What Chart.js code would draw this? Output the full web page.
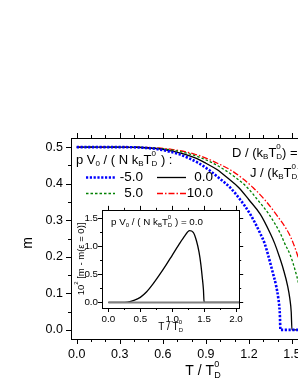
<!DOCTYPE html>
<html>
<head>
<meta charset="utf-8">
<script src="https://cdn.jsdelivr.net/npm/chart.js@4.4.1/dist/chart.umd.min.js"></script>
<style>
  html, body { margin: 0; padding: 0; background: #fff; overflow: hidden; width: 298px; height: 385px; }
  #main  { position: absolute; left: 0; top: 0; }
  #inset { position: absolute; left: 73px; top: 200px; }
</style>
</head>
<body>
<canvas id="main"></canvas>
<canvas id="inset"></canvas>
<script>
// ---- data ----
// legend values of p V0 / (N kB TD0)
const pressures = ['-5.0', '0.0', '5.0', '10.0'];

// m versus T / TD0, one pair of arrays per curve
const tBlue  = [0, 0.28, 0.43, 0.57, 0.71, 0.78, 0.85, 0.92, 0.99, 1.07, 1.14, 1.21, 1.28, 1.31, 1.335, 1.36, 1.39, 1.405, 1.415, 1.42, 2.1];
const mBlue  = [0.5, 0.5, 0.499, 0.494, 0.481, 0.47, 0.456, 0.438, 0.416, 0.389, 0.356, 0.316, 0.263, 0.236, 0.203, 0.166, 0.12, 0.086, 0.048, 0, 0];
const tBlack = [0, 0.3, 0.45, 0.6, 0.75, 0.83, 0.9, 0.98, 1.05, 1.13, 1.2, 1.28, 1.35, 1.38, 1.41, 1.44, 1.47, 1.485, 1.495, 1.5, 2.1];
const mBlack = [0.5, 0.5, 0.499, 0.494, 0.481, 0.47, 0.456, 0.438, 0.416, 0.389, 0.356, 0.316, 0.263, 0.236, 0.203, 0.166, 0.12, 0.086, 0.048, 0, 0];
const tGreen = [0, 0.32, 0.47, 0.63, 0.79, 0.87, 0.95, 1.03, 1.11, 1.19, 1.26, 1.34, 1.42, 1.45, 1.49, 1.52, 1.55, 1.565, 1.575, 1.58, 2.1];
const mGreen = [0.5, 0.5, 0.499, 0.494, 0.481, 0.47, 0.456, 0.438, 0.416, 0.389, 0.356, 0.316, 0.263, 0.236, 0.203, 0.166, 0.12, 0.086, 0.048, 0, 0];
const tRed   = [0, 0.33, 0.49, 0.66, 0.82, 0.9, 0.98, 1.07, 1.15, 1.23, 1.31, 1.39, 1.48, 1.51, 1.54, 1.57, 1.61, 1.625, 1.635, 1.64, 2.1];
const mRed   = [0.5, 0.5, 0.499, 0.494, 0.481, 0.47, 0.456, 0.438, 0.416, 0.389, 0.356, 0.316, 0.263, 0.236, 0.203, 0.166, 0.12, 0.086, 0.048, 0, 0];

// inset: 10^2 [m - m(eps = 0)] for p V0 / (N kB TD0) = 0.0
const insetT = [0, 0.2, 0.3, 0.4, 0.5, 0.6, 0.7, 0.8, 0.9, 1.0, 1.1, 1.2, 1.27, 1.33, 1.38, 1.42, 1.45, 1.47, 1.49, 1.5, 2.05];
const insetD = [0, 0, 0.006, 0.035, 0.09, 0.19, 0.33, 0.49, 0.66, 0.84, 1.02, 1.19, 1.28, 1.25, 1.1, 0.9, 0.67, 0.46, 0.22, 0, 0];
const baseT  = [0, 2.05];
const baseD  = [0, 0];

// tick labels
const mainXTicks  = [0, 0.3, 0.6, 0.9, 1.2, 1.5, 1.8];
const mainYTicks  = [0, 0.1, 0.2, 0.3, 0.4, 0.5];
const insetXTicks = [0, 0.5, 1.0, 1.5, 2.0];
const insetYTicks = [0, 0.5, 1.0, 1.5];

// ---- helpers ----
const FONT = '"Liberation Sans", Arial, sans-serif';
const pts = (xs, ys) => xs.map((x, i) => ({ x: x, y: ys[i] }));

// text with sub/superscripts: parts like {t:'T'}, {sub:'D', sup:'0'}
function rich(ctx, parts, x, y, size, align) {
  const small = Math.round(size * 0.62);
  const widthOf = p => {
    if (p.t !== undefined) { ctx.font = size + 'px ' + FONT; return ctx.measureText(p.t).width; }
    ctx.font = small + 'px ' + FONT;
    return Math.max(p.sub ? ctx.measureText(p.sub).width : 0, p.sup ? ctx.measureText(p.sup).width : 0);
  };
  const total = parts.reduce((s, p) => s + widthOf(p), 0);
  let cx = align === 'center' ? x - total / 2 : align === 'right' ? x - total : x;
  ctx.textBaseline = 'middle';
  ctx.textAlign = 'left';
  ctx.fillStyle = '#000';
  parts.forEach(p => {
    const w = widthOf(p);
    if (p.t !== undefined) {
      ctx.font = size + 'px ' + FONT;
      ctx.fillText(p.t, cx, y);
    } else {
      ctx.font = small + 'px ' + FONT;
      if (p.sub) ctx.fillText(p.sub, cx, y + size * 0.32);
      if (p.sup) ctx.fillText(p.sup, cx, y - size * 0.45);
    }
    cx += w;
  });
}

// white box, frame and outward tick marks drawn from the chart scales
const frame = {
  id: 'frame',
  beforeDatasetsDraw(chart) {
    const a = chart.chartArea, ctx = chart.ctx;
    ctx.save();
    ctx.fillStyle = '#fff';
    ctx.fillRect(a.left, a.top, a.right - a.left, a.bottom - a.top);
    ctx.restore();
  },
  afterDatasetsDraw(chart, args, o) {
    const { ctx, chartArea: a, scales: { x, y } } = chart;
    const r = v => Math.round(v) + 0.5;
    ctx.save();
    ctx.strokeStyle = '#000';
    ctx.lineWidth = 1;
    ctx.beginPath();
    const xt = (v, len) => {
      if (v < x.min || v > x.max) return;
      const px = r(x.getPixelForValue(v));
      ctx.moveTo(px, a.bottom); ctx.lineTo(px, a.bottom + len);
      ctx.moveTo(px, a.top);    ctx.lineTo(px, a.top - len);
    };
    const yt = (v, len) => {
      if (v < y.min || v > y.max) return;
      const py = r(y.getPixelForValue(v));
      ctx.moveTo(a.left, py);  ctx.lineTo(a.left - len, py);
      ctx.moveTo(a.right, py); ctx.lineTo(a.right + len, py);
    };
    for (let v = o.xStart; v <= x.max + 1e-9; v += o.xMinor) xt(+v.toFixed(4), o.minorLen);
    for (let v = o.yStart; v <= y.max + 1e-9; v += o.yMinor) yt(+v.toFixed(4), o.minorLen);
    o.xMajor.forEach(v => xt(v, o.majorLen));
    o.yMajor.forEach(v => yt(v, o.majorLen));
    ctx.stroke();
    ctx.strokeRect(r(a.left), r(a.top), Math.round(a.right - a.left), Math.round(a.bottom - a.top));
    ctx.restore();
  }
};

// ---- main chart ----
const mainCanvas = document.getElementById('main');
mainCanvas.width = 420;
mainCanvas.height = 385;

const styles = [
  { color: '#0000ff', dash: [2.2, 1.6], width: 2.6 },
  { color: '#000000', dash: [],         width: 1.3 },
  { color: '#008000', dash: [2.5, 2],   width: 1.3 },
  { color: '#ff0000', dash: [6, 2, 1.5, 2], width: 1.3 }
];
const series = [pts(tBlue, mBlue), pts(tBlack, mBlack), pts(tGreen, mGreen), pts(tRed, mRed)];

const mainNotes = {
  id: 'mainNotes',
  afterDraw(chart) {
    const ctx = chart.ctx;
    ctx.save();
    // axis titles
    ctx.translate(28, 243);
    ctx.rotate(-Math.PI / 2);
    rich(ctx, [{ t: 'm' }], 0, 0, 14, 'center');
    ctx.setTransform(1, 0, 0, 1, 0, 0);
    rich(ctx, [{ t: 'T / T' }, { sub: 'D', sup: '0' }], 203, 371, 14, 'center');

    // legend
    rich(ctx, [{ t: 'p V' }, { sub: '0' }, { t: ' / ( N k' }, { sub: 'B' }, { t: 'T' }, { sub: 'D', sup: '0' }, { t: ' ) :' }], 76, 160, 13, 'left');
    const rows = [[0, 86, 177, 143], [1, 157, 177, 213], [2, 86, 193, 143], [3, 157, 193, 213]];
    rows.forEach(([i, x0, yy, xr]) => {
      const ds = chart.data.datasets[i];
      ctx.beginPath();
      ctx.strokeStyle = ds.borderColor;
      ctx.lineWidth = ds.borderWidth;
      ctx.setLineDash(ds.borderDash);
      ctx.moveTo(x0, yy + 0.5);
      ctx.lineTo(x0 + 29, yy + 0.5);
      ctx.stroke();
      ctx.setLineDash([]);
      rich(ctx, [{ t: pressures[i] }], xr, yy, 13.5, 'right');
    });

    // parameter notes at the right
    rich(ctx, [{ t: 'D / (k' }, { sub: 'B' }, { t: 'T' }, { sub: 'D', sup: '0' }, { t: ') =' }], 232, 153, 13, 'left');
    rich(ctx, [{ t: 'J / (k' }, { sub: 'B' }, { t: 'T' }, { sub: 'D', sup: '0' }, { t: ') =' }], 250, 173, 13, 'left');
    ctx.restore();
  }
};

new Chart(mainCanvas, {
  type: 'line',
  data: {
    datasets: series.map((d, i) => ({
      label: pressures[i],
      data: d,
      borderColor: styles[i].color,
      borderDash: styles[i].dash,
      borderWidth: styles[i].width,
      pointRadius: 0,
      fill: false,
      cubicInterpolationMode: 'monotone'
    }))
  },
  options: {
    animation: false,
    responsive: false,
    devicePixelRatio: 1,
    layout: { padding: { top: 138, right: 85, left: 0, bottom: 0 } },
    plugins: {
      legend: { display: false },
      tooltip: { enabled: false },
      frame: { xStart: 0, xMinor: 0.1, yStart: 0, yMinor: 0.05, xMajor: mainXTicks, yMajor: mainYTicks, majorLen: 5, minorLen: 3 }
    },
    scales: {
      x: {
        type: 'linear', min: -0.04, max: 1.8,
        afterFit: s => { s.height = 46; },
        afterBuildTicks: s => { s.ticks = mainXTicks.map(v => ({ value: v })); },
        grid: { display: false, drawTicks: false },
        border: { display: false },
        ticks: { padding: 8, color: '#000', font: { family: FONT, size: 12.5 }, callback: v => v.toFixed(1), maxRotation: 0 }
      },
      y: {
        type: 'linear', min: -0.025, max: 0.525,
        afterFit: s => { s.width = 71; },
        afterBuildTicks: s => { s.ticks = mainYTicks.map(v => ({ value: v })); },
        grid: { display: false, drawTicks: false },
        border: { display: false },
        ticks: { padding: 8, color: '#000', font: { family: FONT, size: 12.5 }, callback: v => v.toFixed(1) }
      }
    }
  },
  plugins: [frame, mainNotes]
});

// ---- inset ----
const insetCanvas = document.getElementById('inset');
insetCanvas.width = 175;
insetCanvas.height = 136;
const OX = 73, OY = 200;

const insetNotes = {
  id: 'insetNotes',
  afterDraw(chart) {
    const ctx = chart.ctx, a = chart.chartArea;
    ctx.save();
    rich(ctx, [{ t: 'p V' }, { sub: '0' }, { t: ' / ( N k' }, { sub: 'B' }, { t: 'T' }, { sub: 'D', sup: '0' }, { t: ' ) = 0.0' }], 111 - OX, 222 - OY, 9.8, 'left');
    rich(ctx, [{ t: 'T / T' }, { sub: 'D', sup: '0' }], (a.left + a.right) / 2, 327 - OY, 10, 'center');
    ctx.translate(81 - OX, (a.top + a.bottom) / 2);
    ctx.rotate(-Math.PI / 2);
    rich(ctx, [{ t: '10' }, { sup: '2' }, { t: ' [m - m(\u03b5 = 0)]' }], 0, 0, 9.5, 'center');
    ctx.restore();
  }
};

new Chart(insetCanvas, {
  type: 'line',
  data: {
    datasets: [
      { data: pts(baseT, baseD), borderColor: '#808080', borderWidth: 2, pointRadius: 0 },
      { data: pts(insetT, insetD), borderColor: '#000', borderWidth: 1.3, pointRadius: 0, cubicInterpolationMode: 'monotone' }
    ]
  },
  options: {
    animation: false,
    responsive: false,
    devicePixelRatio: 1,
    layout: { padding: { top: 6, right: 8, left: 0, bottom: 0 } },
    plugins: {
      legend: { display: false },
      tooltip: { enabled: false },
      frame: { xStart: 0, xMinor: 0.25, yStart: 0, yMinor: 0.25, xMajor: insetXTicks, yMajor: insetYTicks, majorLen: 4, minorLen: 2 }
    },
    scales: {
      x: {
        type: 'linear', min: -0.1, max: 2.05,
        afterFit: s => { s.height = 28; },
        afterBuildTicks: s => { s.ticks = insetXTicks.map(v => ({ value: v })); },
        grid: { display: false, drawTicks: false },
        border: { display: false },
        ticks: { padding: 5, color: '#000', font: { family: FONT, size: 9.8 }, callback: v => v.toFixed(1), maxRotation: 0 }
      },
      y: {
        type: 'linear', min: -0.1, max: 1.65,
        afterFit: s => { s.width = 29; },
        afterBuildTicks: s => { s.ticks = insetYTicks.map(v => ({ value: v })); },
        grid: { display: false, drawTicks: false },
        border: { display: false },
        ticks: { padding: 4, color: '#000', font: { family: FONT, size: 9.8 }, callback: v => v.toFixed(1) }
      }
    }
  },
  plugins: [frame, insetNotes]
});
</script>
</body>
</html>
